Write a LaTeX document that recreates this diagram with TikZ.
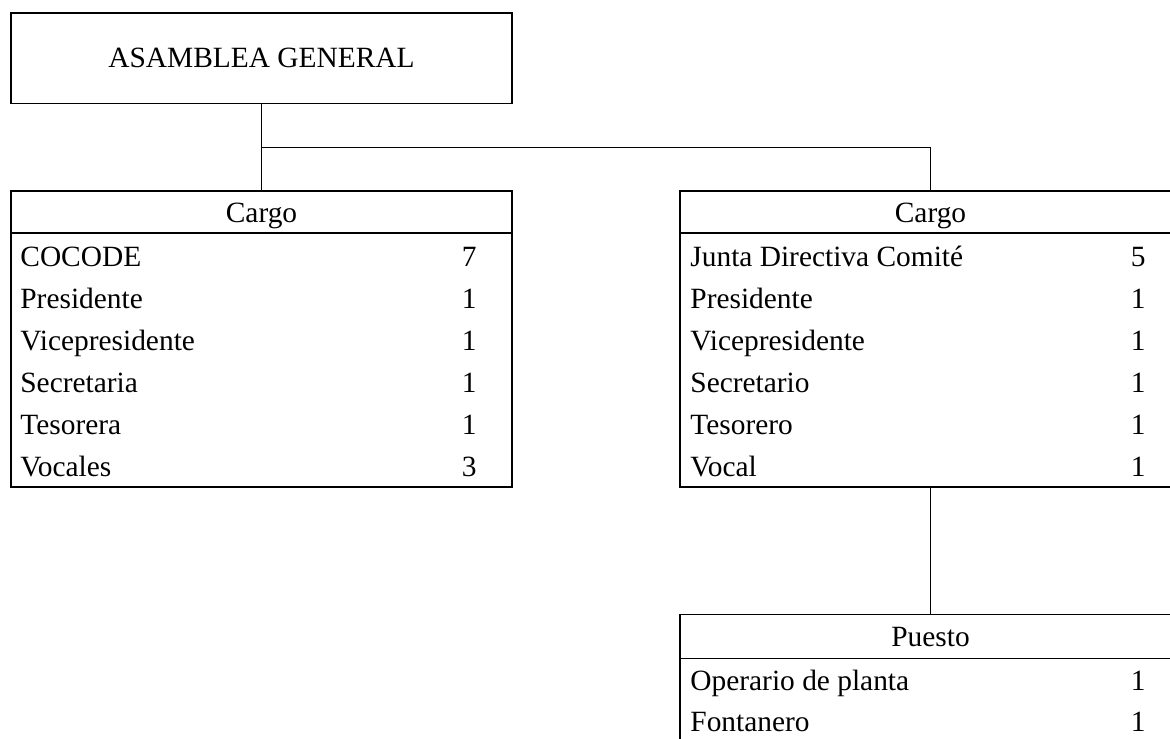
\documentclass[tikz,border=0pt]{standalone}
\usepackage{fontspec}
\setmainfont{Liberation Serif}
\tikzset{
  box/.style={draw, line width=0.8pt, rectangle, inner sep=0pt, outer sep=0pt, minimum width=250.5pt},
  lbl/.style={anchor=base west, inner sep=0pt},
  num/.style={anchor=base east, inner sep=0pt},
  hdr/.style={anchor=base, inner sep=0pt},
  conn/.style={line width=0.8pt},
}
\begin{document}
\begin{tikzpicture}[x=0.5pt,y=-0.5pt,font=\fontsize{14.7pt}{17pt}\selectfont]
\useasboundingbox (0,0) rectangle (1170,738);
\clip (0,0) rectangle (1170,738);

% top box
\node[box, minimum height=45pt] (asam) at (261.5,58.3) {ASAMBLEA GENERAL};

% left table
\node[box, minimum height=21pt] (lh) at (261.5,212) {};
\node[hdr] (lht) at (261.5,222.7) {Cargo};
\node[box, minimum height=126.85pt] (lb) at (261.5,359.85) {};
\foreach \t/\n [count=\i from 0] in {COCODE/7, Presidente/1, Vicepresidente/1, Secretaria/1, Tesorera/1, Vocales/3}{
  \node[lbl] (ll\i) at (20,{266+42.15*\i}) {\t};
  \node[num] (ln\i) at (477,{266+42.15*\i}) {\n};
}

% right table
\node[box, minimum height=21pt] (rh) at (930.5,212) {};
\node[hdr] (rht) at (930.5,222.7) {Cargo};
\node[box, minimum height=126.85pt] (rb) at (930.5,359.85) {};
\foreach \t/\n [count=\i from 0] in {Junta Directiva Comité/5, Presidente/1, Vicepresidente/1, Secretario/1, Tesorero/1, Vocal/1}{
  \node[lbl] (rl\i) at (690,{266+42.15*\i}) {\t};
  \node[num] (rn\i) at (1146,{266+42.15*\i}) {\n};
}

% puesto table
\node[box, minimum height=22pt] (ph) at (930.5,636.3) {};
\node[hdr] (pht) at (930.5,646.7) {Puesto};
\node[box, minimum height=41.85pt] (pb) at (930.5,700.15) {};
\foreach \t/\n [count=\i from 0] in {Operario de planta/1, Fontanero/1}{
  \node[lbl] (pl\i) at (690,{690+41.7*\i}) {\t};
  \node[num] (pn\i) at (1146,{690+41.7*\i}) {\n};
}

% connectors
\coordinate (j) at (261.5,147.3);
\draw[conn] (asam.south) -- (lh.north);
\draw[conn] (j) -| (rh.north);
\draw[conn] (rb.south) -- (ph.north);
\end{tikzpicture}
\end{document}
